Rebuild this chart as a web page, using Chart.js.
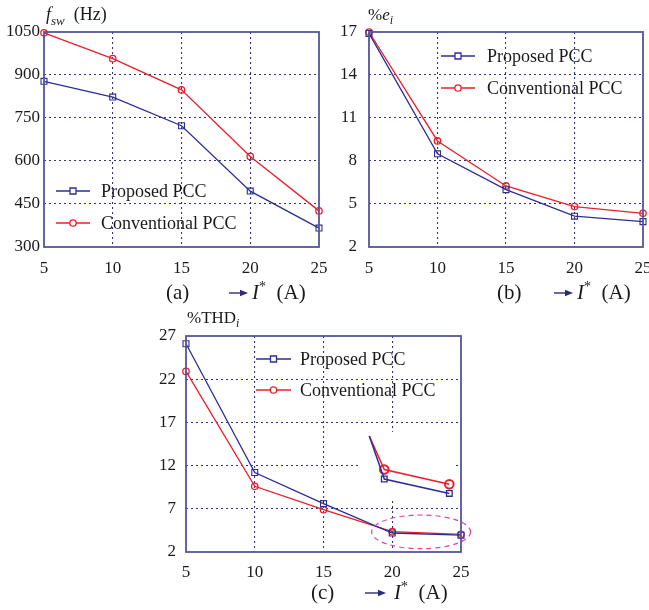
<!DOCTYPE html>
<html>
<head>
<meta charset="utf-8">
<script src="https://cdn.jsdelivr.net/npm/chart.js@4"></script>
<style>
  html, body { margin:0; padding:0; background:#fff; }
  body { width:649px; height:610px; position:relative; overflow:hidden; font-family:'Liberation Serif', 'Times New Roman', serif; color:#1a1a1a; }
  .box { position:absolute; }
  .lbl { position:absolute; white-space:nowrap; line-height:1; }
  sub, sup { line-height:0; }
</style>
</head>
<body>
<div class="box" style="left:0;top:0;width:345px;height:305px"><canvas id="ca"></canvas></div>
<div class="box" style="left:325px;top:0;width:344px;height:305px"><canvas id="cb"></canvas></div>
<div class="box" style="left:140px;top:300px;width:340px;height:310px"><canvas id="cc"></canvas></div>

<!-- axis titles -->
<div class="lbl" style="left:46px;top:5px;font-size:18px"><i>f</i><sub style="font-size:13px"><i>sw</i></sub>&nbsp;&nbsp;(Hz)</div>
<div class="lbl" style="left:368px;top:6px;font-size:17px">%<i>e</i><sub style="font-size:12px"><i>i</i></sub></div>
<div class="lbl" style="left:187px;top:309px;font-size:17px">%THD<sub style="font-size:12px"><i>i</i></sub></div>

<div class="lbl" style="left:166px;top:282px;font-size:21px">(a)</div>
<div class="lbl" style="left:497px;top:282px;font-size:21px">(b)</div>
<div class="lbl" style="left:311px;top:582px;font-size:21px">(c)</div>

<svg class="lbl" style="left:229px;top:288px" width="20" height="10"><line x1="0" y1="5" x2="13" y2="5" stroke="#2b2b7a" stroke-width="1.4"/><polygon points="19,5 11,1.8 11,8.2" fill="#2b2b7a"/></svg>
<svg class="lbl" style="left:554px;top:288px" width="20" height="10"><line x1="0" y1="5" x2="13" y2="5" stroke="#2b2b7a" stroke-width="1.4"/><polygon points="19,5 11,1.8 11,8.2" fill="#2b2b7a"/></svg>
<svg class="lbl" style="left:365px;top:588px" width="22" height="10"><line x1="0" y1="5" x2="15" y2="5" stroke="#2b2b7a" stroke-width="1.4"/><polygon points="21,5 13,1.8 13,8.2" fill="#2b2b7a"/></svg>

<div class="lbl" style="left:252px;top:282px;font-size:21px"><i>I</i><sup style="font-size:14px">*</sup>&nbsp;&nbsp;(A)</div>
<div class="lbl" style="left:577px;top:282px;font-size:21px"><i>I</i><sup style="font-size:14px">*</sup>&nbsp;&nbsp;(A)</div>
<div class="lbl" style="left:394px;top:582px;font-size:21px"><i>I</i><sup style="font-size:14px">*</sup>&nbsp;&nbsp;(A)</div>

<script>
// ---------------- data ----------------
const currents = [5, 10, 15, 20, 25];
const seriesNames = ['Proposed PCC', 'Conventional PCC'];

const fswProposed     = [878, 823, 723, 495, 366];
const fswConventional = [1047, 957, 848, 616, 426];

const errProposed     = [16.9, 8.5, 6.0, 4.15, 3.77];
const errConventional = [17.0, 9.4, 6.26, 4.82, 4.35];

const thdProposed     = [26.1, 11.2, 7.6, 4.2, 3.95];
const thdConventional = [22.9, 9.6, 6.9, 4.35, 4.05];

// magnified inset in (c): x positions and values
const insetX            = [18.33, 19.42, 24.15];
const insetProposed     = [15.43, 10.45, 8.78];
const insetConventional = [15.43, 11.54, 9.83];

const ticksA = [300, 450, 600, 750, 900, 1050];
const ticksB = [2, 5, 8, 11, 14, 17];
const ticksC = [2, 7, 12, 17, 22, 27];

// ---------------- styling ----------------
const BLUE = 'rgb(45,45,150)';
const RED = 'rgb(236,30,42)';
const FRAME = 'rgb(85,85,155)';
const GRID = 'rgb(50,50,130)';
const FONT = "'Liberation Serif', 'Times New Roman', serif";

function pts(xs, ys) { return xs.map((x, i) => ({ x: x, y: ys[i] })); }

const framePlugin = {
  id: 'frame',
  afterDraw(chart) {
    const a = chart.chartArea, c = chart.ctx;
    c.save();
    c.strokeStyle = FRAME; c.lineWidth = 1.8;
    c.strokeRect(a.left, a.top, a.right - a.left, a.bottom - a.top);
    c.restore();
  }
};

const legendPlugin = {
  id: 'inLegend',
  afterDraw(chart, args, o) {
    const c = chart.ctx;
    c.save();
    o.items.forEach((it, i) => {
      const y = o.y + i * o.dy;
      c.strokeStyle = it.color; c.lineWidth = 1.3;
      c.beginPath(); c.moveTo(o.x, y); c.lineTo(o.x + o.len, y); c.stroke();
      const mx = o.x + o.len / 2;
      c.beginPath();
      if (it.shape === 'rect') { c.rect(mx - 3, y - 3, 6, 6); }
      else { c.arc(mx, y, 3.2, 0, Math.PI * 2); }
      c.fillStyle = '#fff'; c.fill(); c.stroke();
      c.fillStyle = '#1a1a1a';
      c.font = '18px ' + FONT;
      c.textBaseline = 'middle'; c.textAlign = 'left';
      c.fillText(it.text, o.x + o.len + o.gap, y + 1);
    });
    c.restore();
  }
};

const insetPlugin = {
  id: 'inset',
  beforeDatasetsDraw(chart, args, o) {
    if (!o.box) return;
    const xs = chart.scales.x, ys = chart.scales.y, c = chart.ctx;
    const x0 = xs.getPixelForValue(o.box[0]), x1 = xs.getPixelForValue(o.box[1]);
    const y0 = ys.getPixelForValue(o.box[2]), y1 = ys.getPixelForValue(o.box[3]);
    c.save(); c.fillStyle = '#fff'; c.fillRect(x0, y0, x1 - x0, y1 - y0); c.restore();
  },
  afterDatasetsDraw(chart, args, o) {
    if (!o.ellipse) return;
    const xs = chart.scales.x, ys = chart.scales.y, c = chart.ctx;
    const e = o.ellipse;
    const cx = xs.getPixelForValue(e[0]), cy = ys.getPixelForValue(e[1]);
    const rx = Math.abs(xs.getPixelForValue(e[0] + e[2]) - cx);
    const ry = Math.abs(ys.getPixelForValue(e[1] + e[3]) - cy);
    c.save();
    c.strokeStyle = 'rgb(225,60,190)'; c.lineWidth = 1.2; c.setLineDash([5, 4]);
    c.beginPath(); c.ellipse(cx, cy, rx, ry, 0, 0, Math.PI * 2); c.stroke();
    c.restore();
  }
};

function makeChart(id, cfg) {
  const tickVals = cfg.ticks;
  const ymin = tickVals[0], ymax = tickVals[tickVals.length - 1];
  const gridColor = (ctx) => {
    const v = ctx.tick ? ctx.tick.value : null;
    return (v === ctx.scale.min || v === ctx.scale.max) ? 'rgba(0,0,0,0)' : GRID;
  };
  const datasets = [
    { label: seriesNames[0], data: pts(currents, cfg.p), borderColor: BLUE, backgroundColor: 'rgba(255,255,255,0)',
      borderWidth: 1.3, pointStyle: 'rect', pointRadius: 4.2, pointBorderWidth: 1.1, pointBorderColor: BLUE, clip: false },
    { label: seriesNames[1], data: pts(currents, cfg.c), borderColor: RED, backgroundColor: 'rgba(255,255,255,0)',
      borderWidth: 1.3, pointStyle: 'circle', pointRadius: 3.2, pointBorderWidth: 1.3, pointBorderColor: RED, clip: false }
  ];
  if (cfg.extra) cfg.extra.forEach(d => datasets.push(d));
  const noPad = (s) => { s.paddingLeft = 0; s.paddingRight = 0; s.paddingTop = 0; s.paddingBottom = 0; };
  return new Chart(document.getElementById(id), {
    type: 'line',
    data: { datasets: datasets },
    plugins: [framePlugin, legendPlugin, insetPlugin],
    options: {
      responsive: true, maintainAspectRatio: false, animation: false,
      layout: { padding: { top: cfg.top, right: cfg.right, left: 0, bottom: cfg.bottom } },
      plugins: {
        legend: { display: false }, tooltip: { enabled: false },
        inLegend: cfg.legend,
        inset: cfg.inset || {}
      },
      scales: {
        x: {
          type: 'linear', min: 5, max: 25,
          afterBuildTicks: (s) => { s.ticks = currents.map(v => ({ value: v })); },
          afterFit: (s) => { s.height = cfg.xh; noPad(s); },
          ticks: { font: { family: FONT, size: 17 }, color: '#1a1a1a', padding: cfg.xpad, maxRotation: 0,
                   callback: (v) => String(v) },
          grid: { color: gridColor, drawTicks: false, lineWidth: 1.1 },
          border: { display: false, dash: [2, 3] }
        },
        y: {
          min: ymin, max: ymax,
          afterBuildTicks: (s) => { s.ticks = tickVals.map(v => ({ value: v })); },
          afterFit: (s) => { s.width = cfg.yw; noPad(s); },
          ticks: { font: { family: FONT, size: 17 }, color: '#1a1a1a', padding: cfg.ypad,
                   callback: (v) => String(v) },
          grid: { color: gridColor, drawTicks: false, lineWidth: 1.1 },
          border: { display: false, dash: [2, 3] }
        }
      }
    }
  });
}

makeChart('ca', {
  p: fswProposed, c: fswConventional, ticks: ticksA,
  top: 32, right: 26, bottom: 28, xh: 30, yw: 44, xpad: 11, ypad: 4,
  legend: { x: 56, y: 191, dy: 32, len: 34, gap: 11,
    items: [{ text: seriesNames[0], color: BLUE, shape: 'rect' }, { text: seriesNames[1], color: RED, shape: 'circle' }] }
});

makeChart('cb', {
  p: errProposed, c: errConventional, ticks: ticksB,
  top: 32, right: 26, bottom: 28, xh: 30, yw: 44, xpad: 11, ypad: 12,
  legend: { x: 116, y: 56, dy: 32, len: 34, gap: 12,
    items: [{ text: seriesNames[0], color: BLUE, shape: 'rect' }, { text: seriesNames[1], color: RED, shape: 'circle' }] }
});

makeChart('cc', {
  p: thdProposed, c: thdConventional, ticks: ticksC,
  top: 36, right: 19, bottom: 28, xh: 30, yw: 46, xpad: 10, ypad: 10,
  legend: { x: 116, y: 59, dy: 31, len: 35, gap: 9,
    items: [{ text: seriesNames[0], color: BLUE, shape: 'rect' }, { text: seriesNames[1], color: RED, shape: 'circle' }] },
  inset: { box: [17.7, 24.6, 15.9, 8.2], ellipse: [22.1, 4.33, 3.6, 1.95] },
  extra: [
    { label: 'insetP', data: pts(insetX, insetProposed), borderColor: BLUE, backgroundColor: 'rgba(255,255,255,0)',
      borderWidth: 1.5, pointStyle: 'rect', pointRadius: [0, 4, 4], pointBorderWidth: 1.3, clip: false },
    { label: 'insetC', data: pts(insetX, insetConventional), borderColor: RED, backgroundColor: 'rgba(255,255,255,0)',
      borderWidth: 1.5, pointStyle: 'circle', pointRadius: [0, 4.3, 4.3], pointBorderWidth: 2, clip: false }
  ]
});
</script>
</body>
</html>
